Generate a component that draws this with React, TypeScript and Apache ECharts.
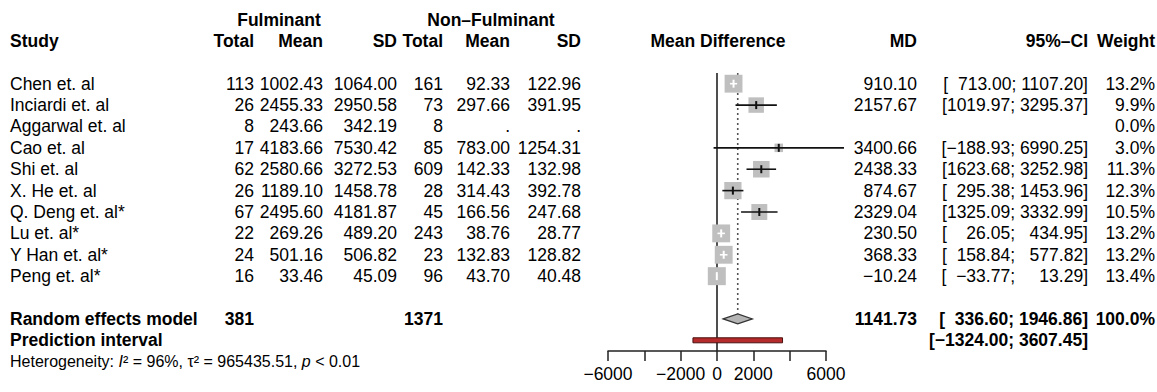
import React, { useEffect, useRef } from "react";
import * as echarts from "echarts";

const studies = ["Chen et. al", "Inciardi et. al", "Aggarwal et. al", "Cao et. al", "Shi et. al", "X. He et. al", "Q. Deng et. al*", "Lu et. al*", "Y Han et. al*", "Peng et. al*"];
const fTotal = [113, 26, 8, 17, 62, 26, 67, 22, 24, 16];
const fMean = [1002.43, 2455.33, 243.66, 4183.66, 2580.66, 1189.1, 2495.6, 269.26, 501.16, 33.46];
const fSD = [1064.0, 2950.58, 342.19, 7530.42, 3272.53, 1458.78, 4181.87, 489.2, 506.82, 45.09];
const nfTotal = [161, 73, 8, 85, 609, 28, 45, 243, 23, 96];
const nfMean: (number | null)[] = [92.33, 297.66, null, 783.0, 142.33, 314.43, 166.56, 38.76, 132.83, 43.7];
const nfSD: (number | null)[] = [122.96, 391.95, null, 1254.31, 132.98, 392.78, 247.68, 28.77, 128.82, 40.48];
const md: (number | null)[] = [910.1, 2157.67, null, 3400.66, 2438.33, 874.67, 2329.04, 230.5, 368.33, -10.24];
const lower: (number | null)[] = [713.0, 1019.97, null, -188.93, 1623.68, 295.38, 1325.09, 26.05, 158.84, -33.77];
const upper: (number | null)[] = [1107.2, 3295.37, null, 6990.25, 3252.98, 1453.96, 3332.99, 434.95, 577.82, 13.29];
const weight = [13.2, 9.9, 0.0, 3.0, 11.3, 12.3, 10.5, 13.2, 13.2, 13.4];

const totalF = 381;
const totalNF = 1371;
const pooled = { md: 1141.73, lower: 336.6, upper: 1946.86, weight: 100.0 };
const prediction = { lower: -1324.0, upper: 3607.45 };
const hetText = "Heterogeneity: {i|I}² = 96%, τ² = 965435.51, {i|p} < 0.01";

const xTicks = [-6000, -2000, 0, 2000, 6000];

const FONT = "Liberation Sans, Arial, Helvetica, sans-serif";
const FS = 17.5;

const num = (v: number, d = 2) => (v < 0 ? "\u2212" + Math.abs(v).toFixed(d) : v.toFixed(d));
const pad = (s: string, len: number) => {
  const n = Math.max(0, len - s.length);
  return "\u00a0\u00a0".repeat(n) + s;
};

type Cell = { text: string; x: number; align: "left" | "right" | "center"; bold?: boolean; rich?: boolean; size?: number };
type TRow = { row: number; cells: Cell[] };

const COL = { study: 10, fT: 254, fM: 323, fS: 397, nT: 443, nM: 510, nS: 581, md: 917, ci: 1088, w: 1155 };

function buildTable(): TRow[] {
  const rows: TRow[] = [];
  rows.push({
    row: -3,
    cells: [
      { text: "Fulminant", x: 279, align: "center", bold: true },
      { text: "Non\u2013Fulminant", x: 491, align: "center", bold: true },
    ],
  });
  rows.push({
    row: -2,
    cells: [
      { text: "Study", x: COL.study, align: "left", bold: true },
      { text: "Total", x: COL.fT, align: "right", bold: true },
      { text: "Mean", x: COL.fM, align: "right", bold: true },
      { text: "SD", x: COL.fS, align: "right", bold: true },
      { text: "Total", x: COL.nT, align: "right", bold: true },
      { text: "Mean", x: COL.nM, align: "right", bold: true },
      { text: "SD", x: COL.nS, align: "right", bold: true },
      { text: "Mean Difference", x: 718, align: "center", bold: true },
      { text: "MD", x: COL.md, align: "right", bold: true },
      { text: "95%\u2013CI", x: COL.ci, align: "right", bold: true },
      { text: "Weight", x: COL.w, align: "right", bold: true },
    ],
  });
  studies.forEach((name, i) => {
    const cells: Cell[] = [
      { text: name, x: COL.study, align: "left" },
      { text: String(fTotal[i]), x: COL.fT, align: "right" },
      { text: num(fMean[i]), x: COL.fM, align: "right" },
      { text: num(fSD[i]), x: COL.fS, align: "right" },
      { text: String(nfTotal[i]), x: COL.nT, align: "right" },
      { text: nfMean[i] == null ? "." : num(nfMean[i] as number), x: COL.nM, align: "right" },
      { text: nfSD[i] == null ? "." : num(nfSD[i] as number), x: COL.nS, align: "right" },
      { text: weight[i].toFixed(1) + "%", x: COL.w, align: "right" },
    ];
    if (md[i] != null) {
      cells.push({ text: num(md[i] as number), x: COL.md, align: "right" });
      const lo = pad(num(lower[i] as number), 7);
      const hi = pad(num(upper[i] as number), 7);
      cells.push({ text: "[" + lo + "; " + hi + "]", x: COL.ci, align: "right" });
    }
    rows.push({ row: i, cells });
  });
  rows.push({
    row: 11,
    cells: [
      { text: "Random effects model", x: COL.study, align: "left", bold: true },
      { text: String(totalF), x: COL.fT, align: "right", bold: true },
      { text: String(totalNF), x: COL.nT, align: "right", bold: true },
      { text: num(pooled.md), x: COL.md, align: "right", bold: true },
      { text: "[" + pad(num(pooled.lower), 7) + "; " + pad(num(pooled.upper), 7) + "]", x: COL.ci, align: "right", bold: true },
      { text: pooled.weight.toFixed(1) + "%", x: COL.w, align: "right", bold: true },
    ],
  });
  rows.push({
    row: 12,
    cells: [
      { text: "Prediction interval", x: COL.study, align: "left", bold: true },
      { text: "[" + num(prediction.lower) + "; " + num(prediction.upper) + "]", x: COL.ci, align: "right", bold: true },
    ],
  });
  rows.push({
    row: 13,
    cells: [{ text: hetText, x: COL.study, align: "left", rich: true, size: 16 }],
  });
  return rows;
}

export default function App() {
  const ref = useRef<HTMLDivElement>(null);
  useEffect(() => {
    if (!ref.current) return;
    const chart = echarts.init(ref.current, null, { renderer: "svg" });
    const table = buildTable();
    const studyData = studies
      .map((_, i) => (md[i] == null ? null : [i, md[i], lower[i], upper[i], weight[i]]))
      .filter((d) => d != null);

    const option: any = {
      animation: false,
      grid: { left: 608, right: 331, top: 73, bottom: 41 },
      xAxis: {
        type: "value",
        min: -6000,
        max: 6000,
        interval: 2000,
        splitLine: { show: false },
        axisLine: { show: true, onZero: false, lineStyle: { color: "#222", width: 1.5 } },
        axisTick: { show: true, length: 10, lineStyle: { color: "#222", width: 1.5 } },
        axisLabel: {
          margin: 14,
          color: "#000",
          fontSize: FS,
          fontFamily: FONT,
          formatter: (v: number) => (xTicks.indexOf(v) < 0 ? "" : v < 0 ? "\u2212" + Math.abs(v) : String(v)),
        },
      },
      yAxis: { type: "value", inverse: true, min: -0.5, max: 12.5, show: false },
      series: [
        {
          type: "custom",
          name: "reflines",
          clip: false,
          z: 1,
          encode: { x: 0, y: 1 },
          data: [
            [0, -0.5, 12.5, 0],
            [pooled.md, -0.5, 10.75, 1],
          ],
          renderItem: (params: any, api: any) => {
            const x = api.value(0);
            const a = api.coord([x, api.value(1)]);
            const b = api.coord([x, api.value(2)]);
            const dotted = api.value(3) === 1;
            return {
              type: "line",
              shape: { x1: a[0], y1: a[1], x2: b[0], y2: b[1] },
              style: dotted
                ? { stroke: "#555", lineWidth: 1.6, lineDash: [2, 3] }
                : { stroke: "#222", lineWidth: 1.6 },
            };
          },
        },
        {
          type: "custom",
          name: "studies",
          clip: false,
          z: 2,
          encode: { x: 1, y: 0 },
          data: studyData,
          renderItem: (params: any, api: any) => {
            const row = api.value(0);
            const c = api.coord([api.value(1), row]);
            const l = api.coord([api.value(2), row]);
            const h = api.coord([api.value(3), row]);
            const s = (18 / Math.sqrt(13.4)) * Math.sqrt(api.value(4));
            const inside = l[0] >= c[0] - s / 2 && h[0] <= c[0] + s / 2;
            const col = inside ? "#fff" : "#111";
            return {
              type: "group",
              children: [
                {
                  type: "rect",
                  shape: { x: c[0] - s / 2, y: c[1] - s / 2, width: s, height: s },
                  style: { fill: "#bfbfbf" },
                },
                {
                  type: "line",
                  shape: { x1: l[0], y1: c[1], x2: h[0], y2: c[1] },
                  style: { stroke: col, lineWidth: 1.6 },
                },
                {
                  type: "line",
                  shape: { x1: c[0], y1: c[1] - 4, x2: c[0], y2: c[1] + 4 },
                  style: { stroke: col, lineWidth: 2 },
                },
              ],
            };
          },
        },
        {
          type: "custom",
          name: "summary",
          clip: false,
          z: 3,
          encode: { x: 1, y: 0 },
          data: [
            [11, pooled.md, pooled.lower, pooled.upper, 0],
            [12, (prediction.lower + prediction.upper) / 2, prediction.lower, prediction.upper, 1],
          ],
          renderItem: (params: any, api: any) => {
            const row = api.value(0);
            const c = api.coord([api.value(1), row]);
            const l = api.coord([api.value(2), row]);
            const h = api.coord([api.value(3), row]);
            if (api.value(4) === 0) {
              return {
                type: "polygon",
                shape: {
                  points: [
                    [l[0], c[1]],
                    [c[0], c[1] - 5],
                    [h[0], c[1]],
                    [c[0], c[1] + 5],
                  ],
                },
                style: { fill: "#b4b4b4", stroke: "#333", lineWidth: 1.2 },
              };
            }
            return {
              type: "rect",
              shape: { x: l[0], y: c[1] - 2.5, width: h[0] - l[0], height: 5 },
              style: { fill: "#b52a2a", stroke: "#4a1010", lineWidth: 1 },
            };
          },
        },
        {
          type: "custom",
          name: "table",
          clip: false,
          z: 4,
          encode: { x: 0, y: 1 },
          data: table.map((r) => [0, r.row]),
          renderItem: (params: any, api: any) => {
            const r = table[params.dataIndex];
            const y = api.coord([0, api.value(1)])[1];
            return {
              type: "group",
              children: r.cells.map((c) => ({
                type: "text",
                x: c.x,
                y: y,
                style: {
                  text: c.text,
                  fill: "#000",
                  fontSize: c.size || FS,
                  fontFamily: FONT,
                  fontWeight: c.bold ? "bold" : "normal",
                  align: c.align,
                  verticalAlign: "middle",
                  rich: c.rich
                    ? { i: { fontStyle: "italic", fontSize: c.size || FS, fontFamily: FONT, fill: "#000" } }
                    : undefined,
                },
              })),
            };
          },
        },
      ],
    };
    chart.setOption(option);
    return () => chart.dispose();
  }, []);
  return <div ref={ref} style={{ position: "fixed", left: 0, top: 0, width: 1157, height: 392, background: "#fff" }} />;
}
